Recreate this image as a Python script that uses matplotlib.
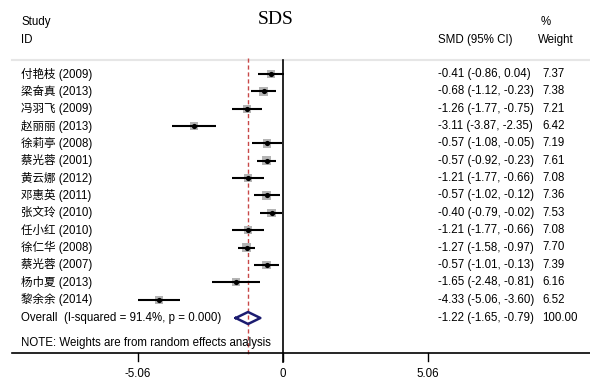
import numpy as np
import matplotlib
matplotlib.use("Agg")
import matplotlib.pyplot as plt

# study data
names = ["付艳枝", "梁奋真", "冯羽飞", "赵丽丽", "徐莉亭", "蔡光蓉", "黄云娜",
         "邓惠英", "张文玲", "任小红", "徐仁华", "蔡光蓉", "杨巾夏", "黎余余"]
years = [2009, 2013, 2009, 2013, 2008, 2001, 2012, 2011, 2010, 2010, 2008, 2007, 2013, 2014]
smd = [-0.41, -0.68, -1.26, -3.11, -0.57, -0.57, -1.21, -0.57, -0.40, -1.21, -1.27, -0.57, -1.65, -4.33]
lo = [-0.86, -1.12, -1.77, -3.87, -1.08, -0.92, -1.77, -1.02, -0.79, -1.77, -1.58, -1.01, -2.48, -5.06]
hi = [0.04, -0.23, -0.75, -2.35, -0.05, -0.23, -0.66, -0.12, -0.02, -0.66, -0.97, -0.13, -0.81, -3.60]
weight = [7.37, 7.38, 7.21, 6.42, 7.19, 7.61, 7.08, 7.36, 7.53, 7.08, 7.70, 7.39, 6.16, 6.52]
overall = (-1.22, -1.65, -0.79)
i2 = 91.4
pval = 0.000
xticks = [-5.06, 0, 5.06]

FONT = ["Liberation Sans", "Noto Sans CJK SC", "DejaVu Sans"]
FS = 8.3

W, H = 590, 383
X0, PPU = 283, 28.66  # pixel of x=0, pixels per SMD unit


def px(x):
    return (x - X0) / PPU


fig = plt.figure(figsize=(W / 100, H / 100), dpi=100)
ax = fig.add_axes([0, 0, 1, 1])
ax.set_xlim(px(0), px(W))
ax.set_ylim(H, 0)
ax.axis("off")

row_y = 74 + np.arange(len(names)) * 17.35
y_over = 318

# headers
ax.text(px(21), 22, "Study", fontsize=FS, family=FONT, va="center")
ax.text(px(21), 40, "ID", fontsize=FS, family=FONT, va="center")
ax.text(px(276), 20, "SDS", fontsize=14, family="Liberation Serif", ha="center", va="center")
ax.text(px(438), 40, "SMD (95% CI)", fontsize=FS, family=FONT, va="center")
ax.text(px(541), 22, "%", fontsize=FS, family=FONT, va="center")
ax.text(px(538), 40, "Weight", fontsize=FS, family=FONT, va="center")
ax.plot([px(12), px(590)], [60, 60], color="#e6e6e6", lw=1.5)

# reference lines
ax.plot([0, 0], [60, 362], color="black", lw=1.2)
ax.plot([overall[0]] * 2, [58, 355], color="#c84848", lw=1, dashes=(3, 2))

# studies
ax.hlines(row_y, lo, hi, color="black", lw=1.5, zorder=3)
ax.scatter(smd, row_y, s=np.array(weight) * 5, marker="s", color="#b4b4b4", zorder=2, linewidths=0)
ax.scatter(smd, row_y, s=14, marker="o", color="black", zorder=4, linewidths=0)

for i in range(len(names)):
    ax.text(px(21), row_y[i], f"{names[i]} ({years[i]})", fontsize=FS, family=FONT, va="center")
    ax.text(px(438), row_y[i], f"{smd[i]:.2f} ({lo[i]:.2f}, {hi[i]:.2f})", fontsize=FS, family=FONT, va="center")
    ax.text(px(542), row_y[i], f"{weight[i]:.2f}", fontsize=FS, family=FONT, va="center")

# overall diamond
est, olo, ohi = overall
ax.plot([olo, est, ohi, est, olo], [y_over, y_over - 6, y_over, y_over + 6, y_over],
        color="#1c1c70", lw=1.8, zorder=5)
ax.text(px(21), y_over, f"Overall  (I-squared = {i2:.1f}%, p = {pval:.3f})", fontsize=FS, family=FONT, va="center")
ax.text(px(438), y_over, f"{est:.2f} ({olo:.2f}, {ohi:.2f})", fontsize=FS, family=FONT, va="center")
ax.text(px(542), y_over, f"{sum(weight):.2f}", fontsize=FS, family=FONT, va="center")

ax.text(px(21), 343, "NOTE: Weights are from random effects analysis", fontsize=FS, family=FONT, va="center")

# x axis
ax.plot([px(12), px(590)], [353, 353], color="black", lw=1.2)
for t in xticks:
    ax.plot([t, t], [353, 361], color="black", lw=1)
    ax.text(t, 374, f"{t:g}", fontsize=FS, family=FONT, ha="center", va="center")

fig.savefig("out.png", dpi=100)
